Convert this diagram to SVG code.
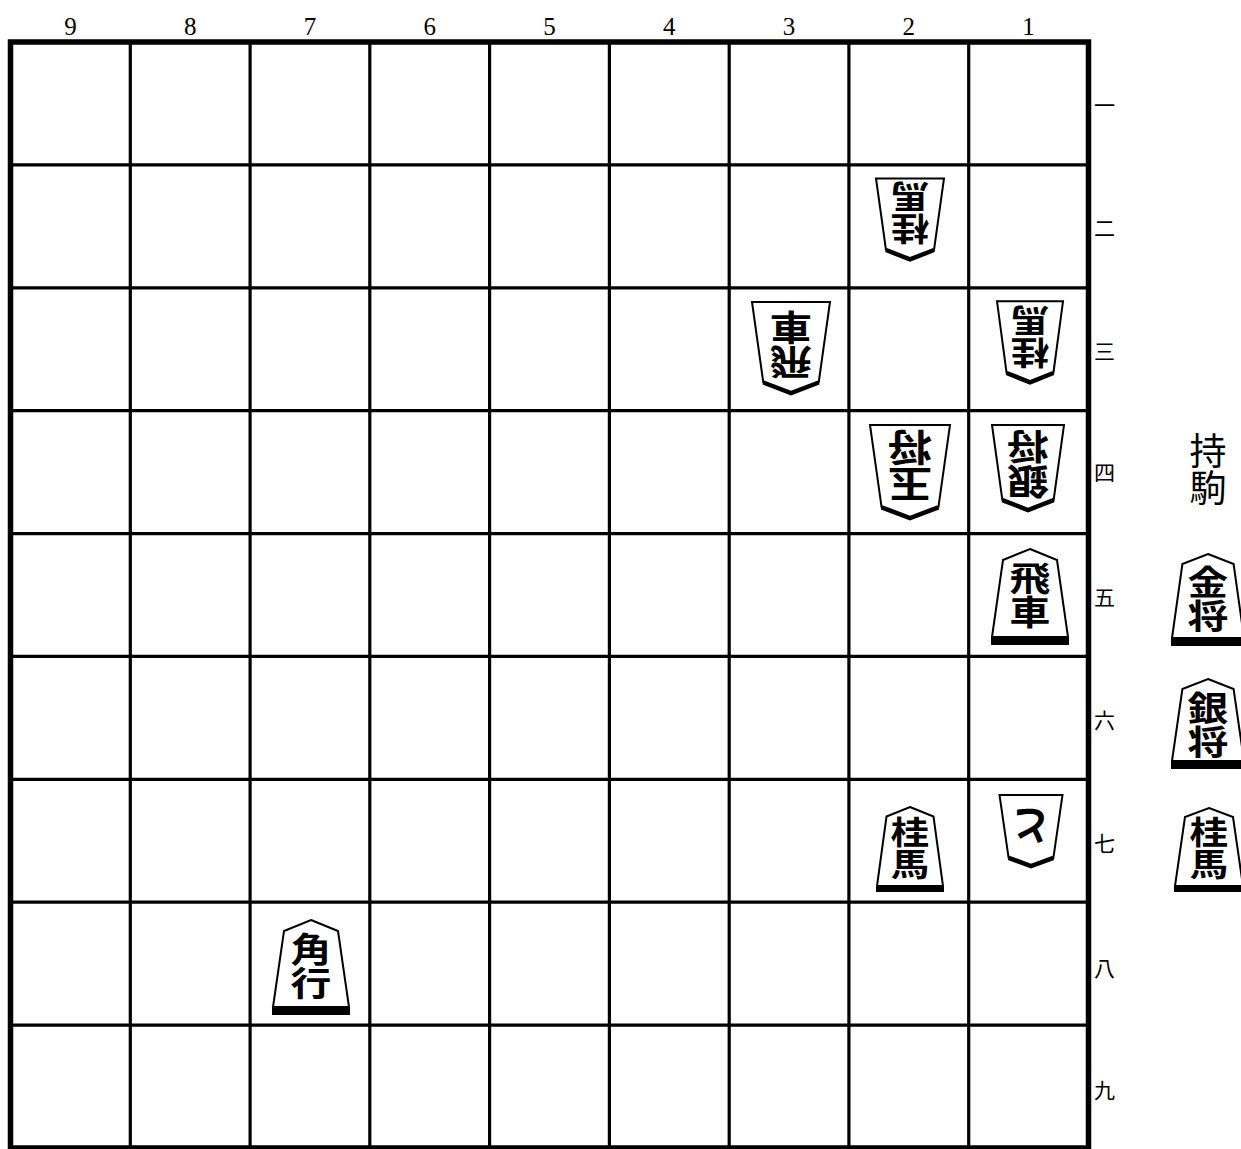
<svg xmlns="http://www.w3.org/2000/svg" width="1241" height="1149" viewBox="0 0 1241 1149">
<style>
.grid{stroke:#000;stroke-width:3.2}
.pc{fill:#fff;stroke:#000;stroke-width:2;stroke-linejoin:miter}
.bar{fill:#000}
.v{fill:none;stroke:#000;stroke-width:4.5;stroke-linejoin:miter}
.pt{font-family:"Noto Sans CJK JP","Noto Sans CJK SC",sans-serif;font-weight:700;text-anchor:middle;fill:#000}
.vt{writing-mode:vertical-rl;text-orientation:upright}
.col{font-family:"Liberation Serif",serif;font-size:25px;text-anchor:middle;fill:#000}
.row{font-family:"Noto Sans CJK JP",sans-serif;font-size:21px;font-weight:400;fill:#000}
.hand{font-family:"Noto Sans CJK JP",sans-serif;font-size:37px;font-weight:400;text-anchor:middle;fill:#000}
</style>
<rect width="1241" height="1149" fill="#fff"/>
<g id="board">
<rect x="10.5" y="42" width="1078" height="1106" fill="#fff" stroke="#000" stroke-width="5.5"/>
<g class="grid">
<line x1="130.3" y1="42" x2="130.3" y2="1148"/>
<line x1="250.1" y1="42" x2="250.1" y2="1148"/>
<line x1="369.8" y1="42" x2="369.8" y2="1148"/>
<line x1="489.6" y1="42" x2="489.6" y2="1148"/>
<line x1="609.4" y1="42" x2="609.4" y2="1148"/>
<line x1="729.2" y1="42" x2="729.2" y2="1148"/>
<line x1="848.9" y1="42" x2="848.9" y2="1148"/>
<line x1="968.7" y1="42" x2="968.7" y2="1148"/>
<line x1="10.5" y1="164.9" x2="1088.5" y2="164.9"/>
<line x1="10.5" y1="287.8" x2="1088.5" y2="287.8"/>
<line x1="10.5" y1="410.7" x2="1088.5" y2="410.7"/>
<line x1="10.5" y1="533.6" x2="1088.5" y2="533.6"/>
<line x1="10.5" y1="656.4" x2="1088.5" y2="656.4"/>
<line x1="10.5" y1="779.3" x2="1088.5" y2="779.3"/>
<line x1="10.5" y1="902.2" x2="1088.5" y2="902.2"/>
<line x1="10.5" y1="1025.1" x2="1088.5" y2="1025.1"/>
</g>
</g>
<g id="col-labels">
<text class="col" x="70.4" y="35">9</text>
<text class="col" x="190.2" y="35">8</text>
<text class="col" x="310" y="35">7</text>
<text class="col" x="429.7" y="35">6</text>
<text class="col" x="549.5" y="35">5</text>
<text class="col" x="669.3" y="35">4</text>
<text class="col" x="789.1" y="35">3</text>
<text class="col" x="908.8" y="35">2</text>
<text class="col" x="1028.6" y="35">1</text>
</g>
<g id="row-labels">
<text class="row" x="1094" y="113">一</text>
<text class="row" x="1094" y="236">二</text>
<text class="row" x="1094" y="359">三</text>
<text class="row" x="1094" y="480">四</text>
<text class="row" x="1094" y="605">五</text>
<text class="row" x="1094" y="728">六</text>
<text class="row" x="1094" y="851">七</text>
<text class="row" x="1094" y="976">八</text>
<text class="row" x="1094" y="1098">九</text>
</g>

<!-- gote pieces -->
<g id="p22-gote-keima">
<polygon class="pc" points="876,178.4 944,178.4 934,250 910,259.4 886,250"/>
<polyline class="v" points="886,250 910,259.4 934,250"/>
<text class="pt vt" font-size="32" transform="matrix(-1.2 0 0 -1 910 213.5)" x="0" y="0">桂馬</text>
</g>
<g id="p33-gote-hisha">
<polygon class="pc" points="752,302 830,302 818.7,382.5 791,393 763.3,382.5"/>
<polyline class="v" points="763.3,382.5 791,393 818.7,382.5"/>
<text class="pt vt" font-size="35" transform="matrix(-1.2 0 0 -1 791 345)" x="0" y="0">飛車</text>
</g>
<g id="p13-gote-keima">
<polygon class="pc" points="997,301.3 1063,301.3 1053.4,373 1030,382.3 1006.6,373"/>
<polyline class="v" points="1006.6,373 1030,382.3 1053.4,373"/>
<text class="pt vt" font-size="32" transform="matrix(-1.2 0 0 -1 1030 337.5)" x="0" y="0">桂馬</text>
</g>
<g id="p24-gote-gyoku">
<polygon class="pc" points="870,425 950,425 938.4,507.3 910,518 881.6,507.3"/>
<polyline class="v" points="881.6,507.3 910,518 938.4,507.3"/>
<text class="pt vt" font-size="37" transform="matrix(-1.2 0 0 -1 910 466)" x="0" y="0">玉将</text>
</g>
<g id="p14-gote-gin">
<polygon class="pc" points="992,425 1064,425 1053.6,500.2 1028,510 1002.4,500.2"/>
<polyline class="v" points="1002.4,500.2 1028,510 1053.6,500.2"/>
<text class="pt vt" font-size="35" transform="matrix(-1.2 0 0 -1 1028 464)" x="0" y="0">銀将</text>
</g>
<g id="p17-gote-tokin">
<polygon class="pc" points="999.5,795 1062.5,795 1053.4,857.8 1031,866 1008.6,857.8"/>
<polyline class="v" points="1008.6,857.8 1031,866 1053.4,857.8"/>
<text class="pt" font-size="40" transform="matrix(-1 0 0 -1 1031 825)" x="0" y="14">と</text>
</g>

<!-- sente pieces -->
<g id="p15-sente-hisha">
<polygon class="pc" points="1030,549 1057,560 1068,637 992,637 1003,560"/>
<rect class="bar" x="991" y="637" width="78" height="8"/>
<text class="pt vt" font-size="34" transform="matrix(1.2 0 0 1 1030 595)" x="0" y="0">飛車</text>
</g>
<g id="p27-sente-keima">
<polygon class="pc" points="910,807 933.5,816.5 943,886 877,886 886.5,816.5"/>
<rect class="bar" x="876" y="886" width="68" height="6"/>
<text class="pt vt" font-size="32" transform="matrix(1.2 0 0 1 910 847.5)" x="0" y="0">桂馬</text>
</g>
<g id="p78-sente-kaku">
<polygon class="pc" points="311,920 338,931 349,1007 273,1007 284,931"/>
<rect class="bar" x="272" y="1007" width="78" height="8"/>
<text class="pt vt" font-size="34" transform="matrix(1.2 0 0 1 311 966)" x="0" y="0">角行</text>
</g>

<!-- pieces in hand -->
<g id="hand">
<text class="hand vt" x="1208" y="469">持駒</text>
<g id="hand-kin">
<polygon class="pc" points="1208,554 1233.6,564 1244,638 1172,638 1182.4,564"/>
<rect class="bar" x="1171" y="638" width="74" height="8"/>
<text class="pt vt" font-size="34" transform="matrix(1.2 0 0 1 1208 599)" x="0" y="0">金将</text>
</g>
<g id="hand-gin">
<polygon class="pc" points="1208,679 1233.6,689 1244,761 1172,761 1182.4,689"/>
<rect class="bar" x="1171" y="761" width="74" height="8"/>
<text class="pt vt" font-size="34" transform="matrix(1.2 0 0 1 1208 725)" x="0" y="0">銀将</text>
</g>
<g id="hand-kei">
<polygon class="pc" points="1209,808 1233,817 1243,886 1175,886 1185,817"/>
<rect class="bar" x="1174" y="886" width="70" height="6"/>
<text class="pt vt" font-size="32" transform="matrix(1.2 0 0 1 1209 848)" x="0" y="0">桂馬</text>
</g>
</g>
<g id="connectors"/>
</svg>
